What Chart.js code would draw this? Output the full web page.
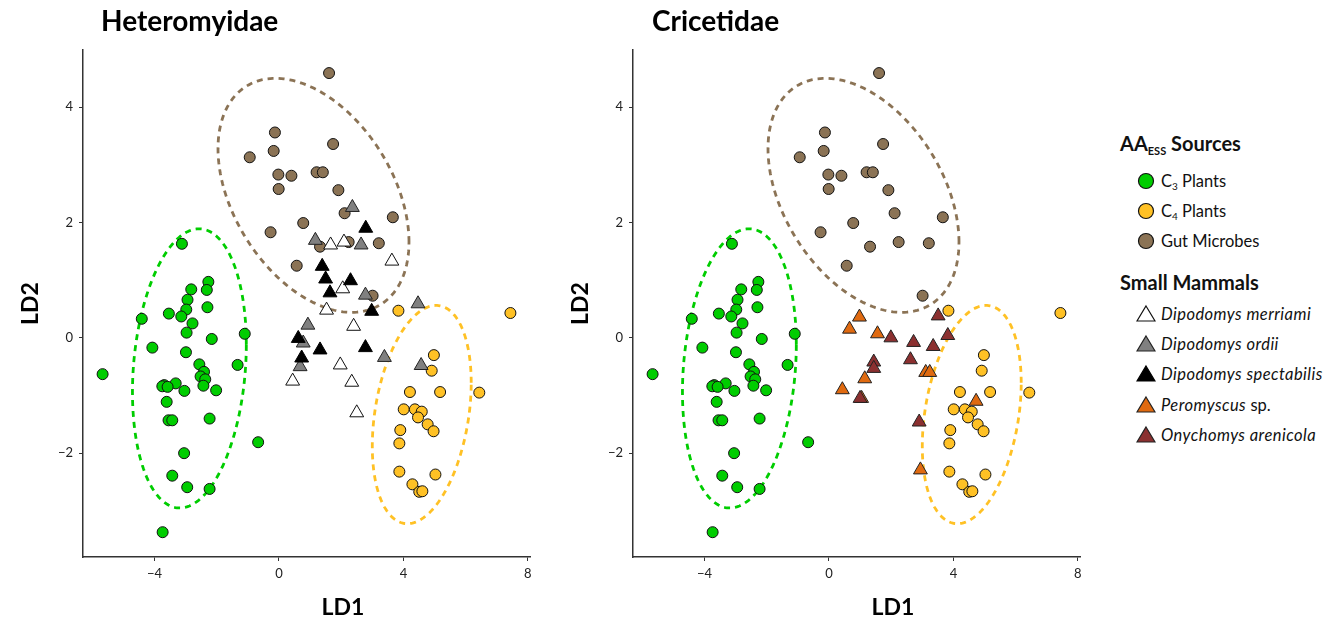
<!DOCTYPE html>
<html><head><meta charset="utf-8">
<script src="https://cdn.jsdelivr.net/npm/chart.js@4.4.0/dist/chart.umd.min.js"></script>
<style>
html,body{margin:0;padding:0;background:#fff;width:1339px;height:623px;overflow:hidden;font-family:Lato,"Open Sans",sans-serif;}
canvas{position:absolute;top:0}
#c1{left:0}#c2{left:550px}
.lg{position:absolute;left:1120px;color:#111;white-space:nowrap}
.lt{font-weight:700;font-size:20px;line-height:20px}
.lt sub{font-size:11px;vertical-align:-4px;line-height:0}
.row{position:absolute;left:1136px;height:20px;display:flex;align-items:center;font-size:16.5px;line-height:20px;color:#111;white-space:nowrap}
.row svg{width:20px;height:20px;margin-right:5px;flex:none}
.row sub{font-size:10px;vertical-align:-3px;line-height:0}
.row i{font-style:italic;letter-spacing:0.45px}
</style>
</head><body>
<canvas id="c1" width="545" height="623"></canvas>
<canvas id="c2" width="545" height="623"></canvas>

<div class="lg lt" style="top:133px">AA<sub>ESS</sub> Sources</div>
<div class="row" style="top:171px"><svg viewBox="0 0 20 20"><circle cx="10" cy="10" r="7.5" fill="#00cd00" stroke="#111" stroke-width="1.2"/></svg><span>C<sub>3</sub> Plants</span></div>
<div class="row" style="top:201px"><svg viewBox="0 0 20 20"><circle cx="10" cy="10" r="7.5" fill="#ffc125" stroke="#111" stroke-width="1.2"/></svg><span>C<sub>4</sub> Plants</span></div>
<div class="row" style="top:231px"><svg viewBox="0 0 20 20"><circle cx="10" cy="10" r="7.5" fill="#8b7355" stroke="#111" stroke-width="1.2"/></svg><span>Gut Microbes</span></div>
<div class="lg lt" style="top:272px">Small Mammals</div>
<div class="row" style="top:304px"><svg viewBox="0 0 20 20"><polygon points="10,2 19,17 1,17" fill="#ffffff" stroke="#111" stroke-width="1.2"/></svg><i>Dipodomys merriami</i></div>
<div class="row" style="top:334px"><svg viewBox="0 0 20 20"><polygon points="10,2 19,17 1,17" fill="#808080" stroke="#222" stroke-width="1.2"/></svg><i>Dipodomys ordii</i></div>
<div class="row" style="top:364px"><svg viewBox="0 0 20 20"><polygon points="10,2 19,17 1,17" fill="#000000" stroke="#000" stroke-width="1.2"/></svg><i>Dipodomys spectabilis</i></div>
<div class="row" style="top:395px"><svg viewBox="0 0 20 20"><polygon points="10,2 19,17 1,17" fill="#e06a10" stroke="#222" stroke-width="1.2"/></svg><span><i>Peromyscus</i> sp.</span></div>
<div class="row" style="top:425px"><svg viewBox="0 0 20 20"><polygon points="10,2 19,17 1,17" fill="#8b3030" stroke="#222" stroke-width="1.2"/></svg><i>Onychomys arenicola</i></div>

<script>
// ---------- data (LD1, LD2) ----------
const xTicks = [-4, 0, 4, 8];
const yTicks = [-2, 0, 2, 4];

const c3Plants = [[-3.12,1.63],[-2.27,0.97],[-2.82,0.84],[-2.32,0.83],[-2.94,0.66],[-2.98,0.49],[-2.30,0.53],[-4.41,0.33],[-3.54,0.42],[-3.14,0.37],[-2.78,0.25],[-2.97,0.09],[-1.10,0.07],[-2.16,-0.02],[-4.07,-0.17],[-2.99,-0.25],[-5.67,-0.63],[-2.56,-0.46],[-2.41,-0.59],[-1.33,-0.47],[-2.52,-0.67],[-2.37,-0.72],[-2.43,-0.83],[-2.02,-0.91],[-3.32,-0.79],[-3.69,-0.82],[-3.75,-0.84],[-3.58,-0.85],[-3.04,-0.92],[-3.61,-1.11],[-3.55,-1.43],[-3.43,-1.43],[-2.23,-1.40],[-0.67,-1.81],[-3.05,-2.00],[-3.43,-2.39],[-2.95,-2.59],[-2.23,-2.62],[-3.74,-3.37]];
const c4Plants = [[3.84,0.47],[7.44,0.43],[4.98,-0.30],[4.91,-0.57],[4.21,-0.94],[5.18,-0.94],[6.44,-0.95],[4.01,-1.24],[4.37,-1.24],[4.59,-1.28],[4.47,-1.38],[4.78,-1.50],[4.97,-1.62],[3.90,-1.60],[3.87,-1.83],[3.87,-2.32],[5.03,-2.37],[4.29,-2.54],[4.51,-2.67],[4.61,-2.66]];
const gutMicrobes = [[1.61,4.59],[-0.13,3.56],[1.74,3.36],[-0.17,3.24],[-0.94,3.13],[-0.02,2.83],[0.40,2.81],[1.21,2.87],[1.41,2.87],[-0.01,2.58],[1.91,2.56],[2.11,2.16],[3.66,2.09],[0.78,1.99],[-0.27,1.83],[1.32,1.58],[2.24,1.66],[3.21,1.64],[0.57,1.25],[3.01,0.73]];

const dMerriami = [[1.66,1.61],[2.09,1.66],[3.63,1.33],[2.05,0.85],[1.53,0.48],[2.40,0.20],[1.97,-0.47],[0.44,-0.75],[2.34,-0.77],[2.50,-1.30]];
const dOrdii = [[2.36,2.26],[1.17,1.69],[2.64,1.61],[2.78,0.74],[4.47,0.59],[0.93,0.22],[0.78,-0.09],[3.39,-0.34],[0.68,-0.50],[4.57,-0.48]];
const dSpectabilis = [[2.79,1.90],[1.39,1.24],[1.50,1.02],[2.30,0.99],[1.64,0.78],[2.98,0.46],[0.62,-0.01],[1.32,-0.21],[2.78,-0.17],[0.73,-0.35]];
const peromyscus = [[0.98,0.36],[0.66,0.15],[1.56,0.07],[3.11,-0.60],[3.24,-0.60],[1.15,-0.71],[0.43,-0.90],[1.05,-1.05],[4.73,-1.10],[2.94,-2.29]];
const onychomys = [[3.51,0.38],[1.99,0.00],[3.82,0.04],[2.72,-0.08],[3.35,-0.15],[2.62,-0.38],[1.44,-0.42],[1.44,-0.53],[1.00,-1.05],[2.90,-1.46]];

// ellipse: centre x, centre y, axis-1 vector (x,y), axis-2 vector (x,y)
const ellipseC3 = [-2.88, -0.53, 1.83, 0.41, 0, 2.385];
const ellipseC4 = [4.59, -1.33, 1.59, 0.55, 0, 1.81];
const ellipseGut = [1.11, 2.47, 3.07, -0.81, 0, 1.86];

const COL = {c3:'#00cd00', c4:'#ffc125', gut:'#8b7355', mer:'#ffffff', ord:'#808080', spe:'#000000', per:'#e06a10', ony:'#8b3030'};
const FONT = 'Lato, "Open Sans", sans-serif';

const toPts = a => a.map(p => ({x:p[0], y:p[1]}));

function circleSet(label, arr, col){
  return {label, data: toPts(arr), pointStyle:'circle', pointRadius:5.5, pointHoverRadius:5.5,
    backgroundColor:col, borderColor:'#111', borderWidth:1, order:10};
}
function triSet(label, arr, col, border, order){
  return {label, data: toPts(arr), pointStyle:'triangle', pointRadius:8, pointHoverRadius:8,
    backgroundColor:col, borderColor:border, borderWidth:1, order};
}

const ellipsePlugin = {
  id:'ellipses',
  beforeDatasetsDraw(chart, args, opts){
    const {ctx, chartArea} = chart;
    const xs = chart.scales.x, ys = chart.scales.y;
    ctx.save();
    ctx.beginPath(); ctx.rect(chartArea.left, chartArea.top, chartArea.width, chartArea.height); ctx.clip();
    (opts.list || []).forEach(([e, color]) => {
      ctx.beginPath();
      const n = 200;
      for (let i = 0; i <= n; i++){
        const t = i / n * Math.PI * 2;
        const vx = e[0] + e[2]*Math.cos(t) + e[4]*Math.sin(t);
        const vy = e[1] + e[3]*Math.cos(t) + e[5]*Math.sin(t);
        const px = xs.getPixelForValue(vx), py = ys.getPixelForValue(vy);
        if (i) ctx.lineTo(px, py); else ctx.moveTo(px, py);
      }
      ctx.closePath();
      ctx.setLineDash([6,5]);
      ctx.lineWidth = 2.8;
      ctx.strokeStyle = color;
      ctx.stroke();
    });
    ctx.restore();
  }
};

const titlePlugin = {
  id:'panelTitle',
  afterDraw(chart, args, opts){
    const ctx = chart.ctx;
    ctx.save();
    ctx.fillStyle = '#000';
    ctx.textBaseline = 'alphabetic';
    ctx.textAlign = 'left';
    ctx.font = 'bold 28px ' + FONT;
    ctx.fillText(opts.text, opts.x, 31);
    ctx.textAlign = 'center';
    ctx.textBaseline = 'middle';
    ctx.font = 'bold 23px ' + FONT;
    ctx.fillText(opts.xTitle, opts.xTitleX, 608);
    ctx.restore();
  }
};

const fmt = v => String(v).replace('-', '\u2212');

function makeChart(id, title, titleX, datasets){
  return new Chart(document.getElementById(id), {
    type:'scatter',
    data:{datasets},
    plugins:[ellipsePlugin, titlePlugin],
    options:{
      responsive:false, animation:false, events:[],
      layout:{padding:{top:50, right:15, left:0, bottom:0}},
      scales:{
        x:{type:'linear', min:-6.3, max:8.07,
           afterBuildTicks: s => { s.ticks = xTicks.map(v => ({value:v})); },
           afterFit: s => { s.height = 66; },
           ticks:{callback: fmt, font:{family:FONT, size:13}, color:'#222', padding:5, maxRotation:0},
           grid:{drawOnChartArea:false, drawTicks:true, tickLength:4, color:'#333'},
           border:{display:true, color:'#333', width:1.5},
           title:{display:false}},
        y:{type:'linear', min:-3.8, max:4.99,
           afterBuildTicks: s => { s.ticks = yTicks.map(v => ({value:v})); },
           afterFit: s => { s.width = 83; },
           ticks:{callback: fmt, font:{family:FONT, size:13}, color:'#222', padding:6},
           grid:{drawOnChartArea:false, drawTicks:true, tickLength:4, color:'#333'},
           border:{display:true, color:'#333', width:1.5},
           title:{display:true, text:'LD2', font:{family:FONT, size:23, weight:'bold'}, color:'#000', padding:{top:17, bottom:0}}}
      },
      plugins:{
        legend:{display:false}, tooltip:{enabled:false},
        ellipses:{list:[[ellipseC3, COL.c3],[ellipseC4, COL.c4],[ellipseGut, COL.gut]]},
        panelTitle:{text:title, x:titleX, xTitle:'LD1', xTitleX:343}
      }
    }
  });
}

const sources = () => [
  circleSet('C3 Plants', c3Plants, COL.c3),
  circleSet('C4 Plants', c4Plants, COL.c4),
  circleSet('Gut Microbes', gutMicrobes, COL.gut)
];

makeChart('c1', 'Heteromyidae', 101, [
  ...sources(),
  triSet('Dipodomys merriami', dMerriami, COL.mer, '#111', 3),
  triSet('Dipodomys ordii', dOrdii, COL.ord, '#222', 2),
  triSet('Dipodomys spectabilis', dSpectabilis, COL.spe, '#000', 1)
]);
makeChart('c2', 'Cricetidae', 102, [
  ...sources(),
  triSet('Peromyscus sp.', peromyscus, COL.per, '#222', 2),
  triSet('Onychomys arenicola', onychomys, COL.ony, '#222', 1)
]);
</script>
</body></html>
